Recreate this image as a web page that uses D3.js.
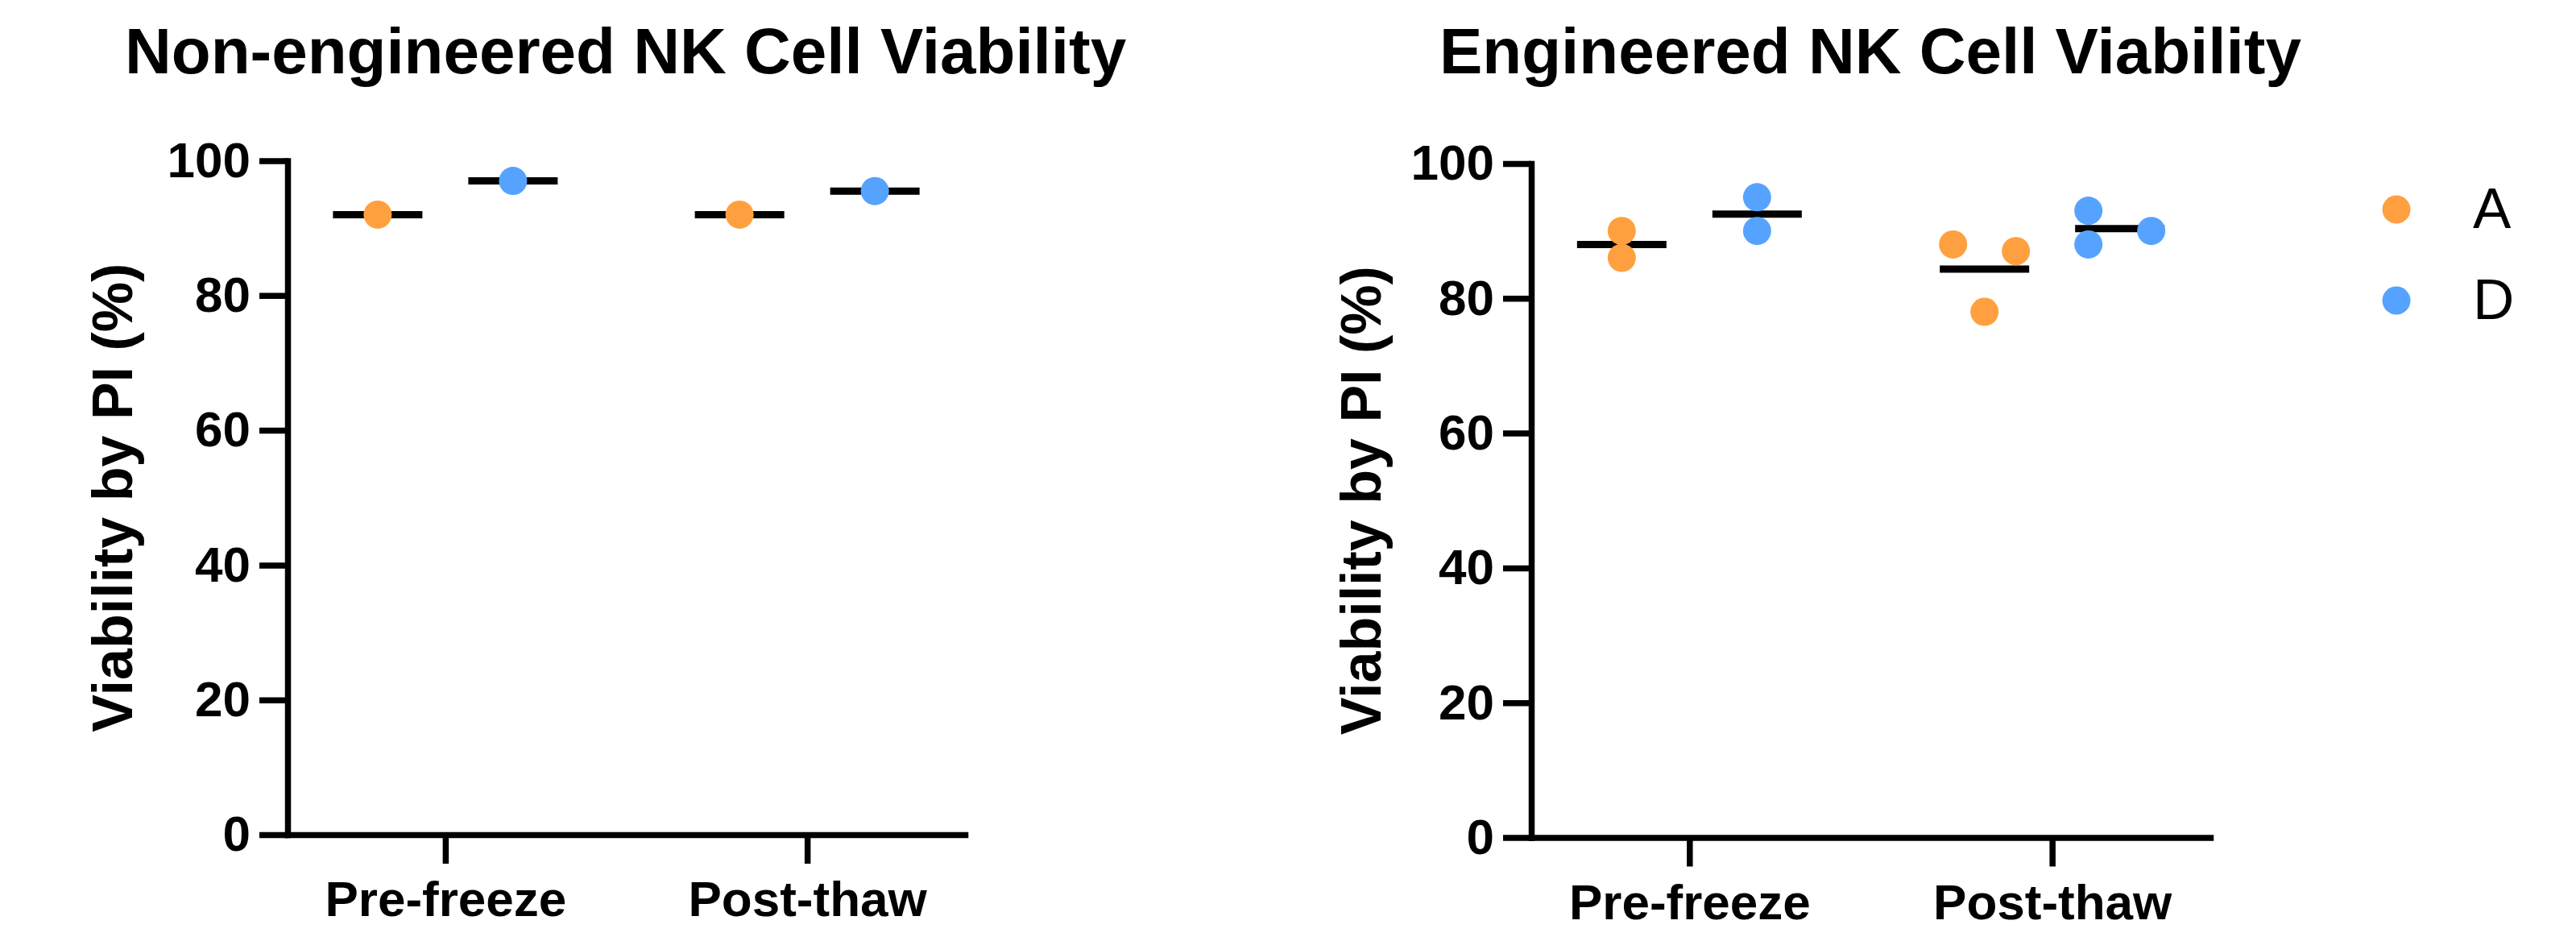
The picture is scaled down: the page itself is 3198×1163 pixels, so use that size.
<!DOCTYPE html>
<html>
<head>
<meta charset="utf-8">
<script src="https://cdn.jsdelivr.net/npm/d3@7"></script>
<style>
  body { margin: 0; background: #fff; }
  svg { display: block; font-family: "Liberation Sans", Arial, Helvetica, sans-serif; }
</style>
</head>
<body>
<svg id="chart" width="3198" height="1163"></svg>
<script>
// data
const categories = ["Pre-freeze", "Post-thaw"];
const groups = ["A", "D"];
const colors = ["#FFA040", "#56A3FF"];
const yTicks = [0, 20, 40, 60, 80, 100];

// per category: list of replicate viability values (%)
const nonEngA = [[92], [92]];
const nonEngD = [[97], [95.5]];
const engA = [[90, 86], [88, 87, 78]];
const engD = [[95, 90], [93, 88, 90]];

const panels = [
  { title: "Non-engineered NK Cell Viability", titleX: 155, ox: 357, top: 199.5, bottom: 1036, right: 1198, labelX: 164, series: [nonEngA, nonEngD] },
  { title: "Engineered NK Cell Viability", titleX: 1787, ox: 1901, top: 203, bottom: 1039.5, right: 2744, labelX: 1714, series: [engA, engD] }
];

const svg = d3.select("#chart");
const color = d3.scaleOrdinal().domain(groups).range(colors);
const R = 17.5;          // dot radius
const colStep = 39;      // half spacing of dodged dots
const meanHalf = 55.5;   // half width of mean bar

// simple swarm: dots that would overlap get put into side columns
function dodge(vals, y) {
  let pts = vals.map(v => ({ v: v, py: y(v), col: 0 }))
    .sort((a, b) => b.v - a.v);
  let near = (a, b) => Math.abs(a.py - b.py) < R * 1.8;
  pts.forEach((p, i) => {
    let used = pts.slice(0, i).filter(q => near(p, q)).map(q => q.col);
    let c = 0;
    while (used.includes(c)) c++;
    p.col = c;
  });
  // clusters of touching dots are centred on the group position
  let cluster = pts.map((p, i) => i);
  pts.forEach((p, i) => pts.forEach((q, j) => {
    if (j < i && near(p, q)) {
      let from = cluster[i], to = cluster[j];
      cluster = cluster.map(c => c === from ? to : c);
    }
  }));
  pts.forEach((p, i) => {
    let cols = pts.filter((q, j) => cluster[j] === cluster[i]).map(q => q.col);
    let mid = (d3.min(cols) + d3.max(cols)) / 2;
    p.dx = (p.col - mid) * 2 * colStep;
  });
  return pts;
}

panels.forEach(p => {
  let g = svg.append("g");

  let y = d3.scaleLinear().domain([0, 100]).range([p.bottom, p.top]);
  let x = d3.scalePoint().domain(categories).range([p.ox, p.right]).padding(0.436);
  let inner = d3.scaleBand().domain(groups).range([-168, 168]);

  g.append("text")
    .attr("x", p.titleX).attr("y", 91)
    .attr("font-size", 80).attr("font-weight", "bold")
    .text(p.title);

  g.append("text")
    .attr("transform", `translate(${p.labelX},${(p.top + p.bottom) / 2}) rotate(-90)`)
    .attr("text-anchor", "middle")
    .attr("font-size", 70).attr("font-weight", "bold")
    .text("Viability by PI (%)");

  let ya = g.append("g")
    .attr("transform", `translate(${p.ox},0)`)
    .call(d3.axisLeft(y).tickValues(yTicks).tickSize(35).tickPadding(11).tickSizeOuter(0));

  let xa = g.append("g")
    .attr("transform", `translate(0,${p.bottom})`)
    .call(d3.axisBottom(x).tickSize(36).tickPadding(21).tickSizeOuter(0));

  [ya, xa].forEach(a => {
    a.selectAll("path.domain").attr("stroke", "#000").attr("stroke-width", 7.5).attr("stroke-linecap", "square");
    a.selectAll(".tick line").attr("stroke", "#000").attr("stroke-width", 7.5);
    a.selectAll(".tick text")
      .attr("fill", "#000")
      .attr("font-family", "Liberation Sans, Arial, sans-serif")
      .attr("font-size", 62).attr("font-weight", "bold");
  });

  p.series.forEach((ser, si) => {
    let gname = groups[si];
    ser.forEach((vals, ci) => {
      let cx = x(categories[ci]) + inner(gname) + inner.bandwidth() / 2;

      g.append("line")
        .attr("x1", cx - meanHalf).attr("x2", cx + meanHalf)
        .attr("y1", y(d3.mean(vals))).attr("y2", y(d3.mean(vals)))
        .attr("stroke", "#000").attr("stroke-width", 9);

      g.selectAll(null)
        .data(dodge(vals, y))
        .enter()
        .append("circle")
        .attr("cx", d => cx + d.dx)
        .attr("cy", d => d.py)
        .attr("r", R)
        .attr("fill", color(gname));
    });
  });
});

// legend
let legY = d3.scalePoint().domain(groups).range([260, 373]);
let leg = svg.append("g");
groups.forEach(gname => {
  leg.append("circle")
    .attr("cx", 2975).attr("cy", legY(gname)).attr("r", R)
    .attr("fill", color(gname));
  leg.append("text")
    .attr("x", 3070).attr("y", legY(gname) + 23)
    .attr("font-size", 71)
    .text(gname);
});
</script>
</body>
</html>
